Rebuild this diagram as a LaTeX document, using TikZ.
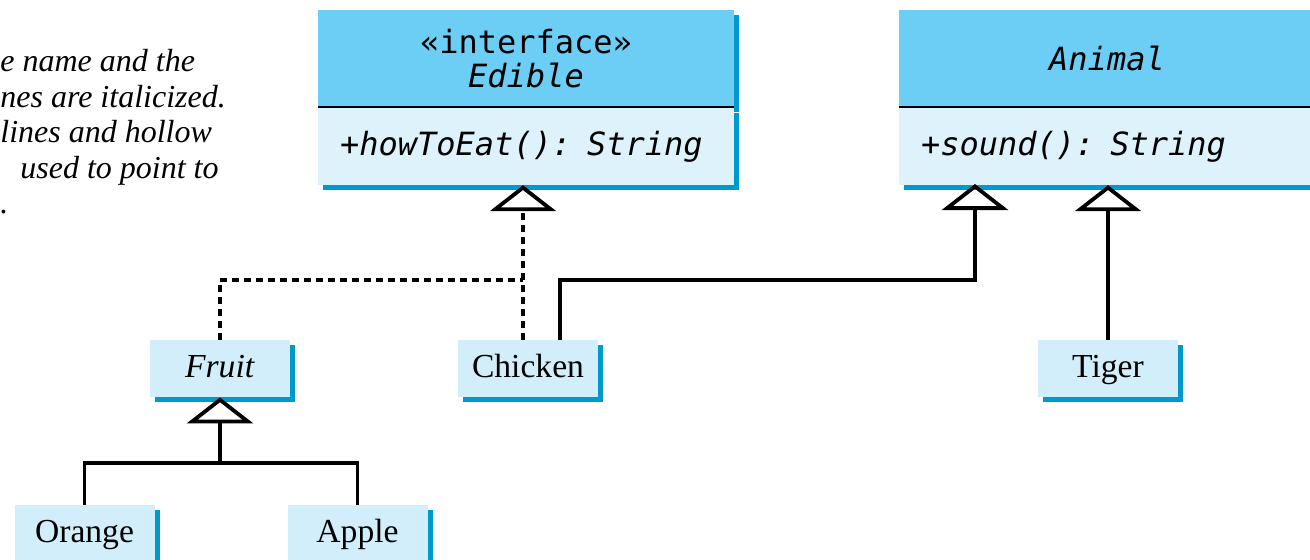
\documentclass[tikz,border=0pt]{standalone}
\usepackage{fontspec}
\setmainfont{Liberation Serif}
\newfontfamily\codefont{DejaVu Sans Mono}
\usetikzlibrary{arrows.meta,shadows,positioning}

\definecolor{headblue}{RGB}{108,206,245}
\definecolor{bodyblue}{RGB}{222,242,252}
\definecolor{leafblue}{RGB}{210,238,251}
\definecolor{shadowblue}{RGB}{0,153,204}

\tikzset{
    boxshadow/.style={drop shadow={shadow xshift=2.5pt, shadow yshift=-2.5pt, fill=shadowblue, opacity=1}},
    classhead/.style={boxshadow, fill=headblue, minimum width=208pt, minimum height=48.5pt, inner sep=0pt,
            align=center, font=\codefont\fontsize{16}{17}\selectfont},
    classbody/.style={boxshadow, fill=bodyblue, minimum height=38.5pt, inner xsep=11pt, inner ysep=0pt,
            text width=186pt, align=left, font=\codefont\itshape\fontsize{16}{17}\selectfont},
    leaf/.style={boxshadow, fill=leafblue, minimum width=70pt, minimum height=28.5pt, inner sep=0pt,
            text height=12pt, text depth=3.5pt, font=\fontsize{16.8}{18}\selectfont},
    inherit/.style={line width=1.9pt, -{Triangle[open, length=13pt, width=33pt]}},
    realize/.style={inherit, dash pattern=on 3.5pt off 2.5pt}
}

\begin{document}
\begin{tikzpicture}[x=0.5pt, y=-0.5pt]
    \useasboundingbox (0,0) rectangle (1310,559);

    % Nota a sinistra
    \node[anchor=north west, inner sep=0pt, align=left, font=\itshape\fontsize{16}{17.75}\selectfont]
        (note) at (0,49) {e name and the\\nes are italicized.\\lines and hollow\\\hspace*{10pt}used to point to\\.};

    % Classi
    \node[classhead] (edible) at (526,58.5) {«interface»\\\textit{Edible}};
    \node[classbody, below=0pt of edible] (edibleops) {+howToEat(): String};
    \draw[line width=1pt] (edible.south west) -- (edible.south east);

    \node[classhead] (animal) at (1107,58.5) {\textit{Animal}};
    \node[classbody, below=0pt of animal] (animalops) {+sound(): String};
    \draw[line width=1pt] (animal.south west) -- (animal.south east);

    \foreach \name/\txt/\x/\y in {fruit/\textit{Fruit}/220/368.5, chicken/Chicken/528/368.5,
            tiger/Tiger/1108/368.5, orange/Orange/84.5/533.5, apple/Apple/357.5/533.5} {
            \node[leaf] (\name) at (\x,\y) {\txt};
        }

    % Archi
    \coordinate (join) at (523,280);
    \coordinate (bend) at (975,280);
    \coordinate (animaltip) at (975,184);
    \draw[realize] (chicken.north -| join) -- (join |- edibleops.south);
    \draw[line width=1.9pt, dash pattern=on 3.5pt off 2.5pt] (fruit.north) |- (join);
    \draw[inherit] ([xshift=16pt]chicken.north) |- (bend) -- (animaltip);
    \draw[inherit] (tiger.north) -- (tiger.north |- animalops.south);
    \draw[line width=1.9pt] (orange.north) -- ++(0,-42) -| (apple.north);
    \draw[inherit] (fruit.south |- 0,463) -- (fruit.south);
\end{tikzpicture}
\end{document}
